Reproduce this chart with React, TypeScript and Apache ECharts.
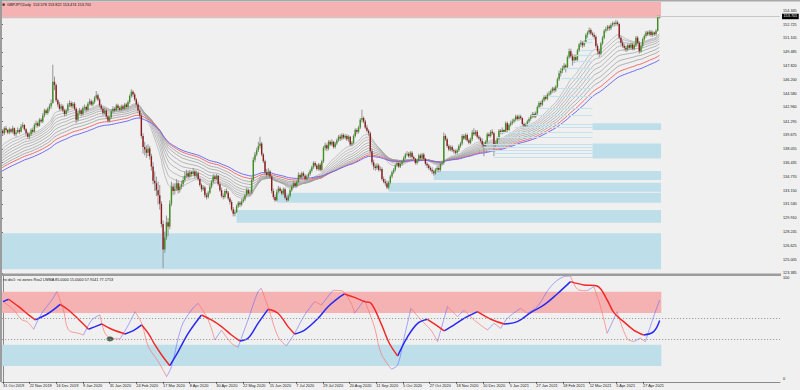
import React, { useEffect, useRef } from "react";
import * as echarts from "echarts";

const FONT = "'Liberation Sans', Arial, sans-serif";

const titleText = "GBPJPY,Daily  153.578 153.822 153.474 153.701";
const indicatorText = "rsi div1: rsi zones Rsx2 LWMA 85.0000 15.0000 57.9141 77.1753";

const dateBars = [0, 16, 32, 48, 64, 80, 96, 112, 128, 144, 160, 176, 192, 208, 224, 240, 256, 272, 288, 304, 320, 336, 352, 368, 384];
const dateLabels = ["31 Oct 2019", "22 Nov 2019", "16 Dec 2019", "9 Jan 2020", "31 Jan 2020", "24 Feb 2020", "17 Mar 2020", "8 Apr 2020", "30 Apr 2020", "22 May 2020", "15 Jun 2020", "7 Jul 2020", "29 Jul 2020", "20 Aug 2020", "11 Sep 2020", "5 Oct 2020", "27 Oct 2020", "18 Nov 2020", "10 Dec 2020", "5 Jan 2021", "27 Jan 2021", "18 Feb 2021", "12 Mar 2021", "5 Apr 2021", "27 Apr 2021"];

const priceTicks = [154.345, 152.725, 151.105, 149.485, 147.82, 146.2, 144.58, 142.96, 141.295, 139.675, 138.055, 136.435, 134.77, 133.15, 131.53, 129.91, 128.245, 126.625, 125.005, 123.385];
const lastPrice = 153.701;

const firstOpen = 140.0;
const closes = [
  140.2, 139.9, 140.5, 140.3, 140.0, 140.4, 140.1, 140.5, 139.8, 140.0, 140.3, 140.1, 140.7, 140.9, 140.4, 139.9,
  139.5, 139.8, 140.3, 140.1, 140.9, 141.1, 140.8, 141.5, 141.3, 142.0, 142.6, 142.3, 142.8, 143.1, 143.5, 146.0,
  145.6, 143.8, 143.3, 142.8, 143.1, 142.6, 142.2, 142.6, 143.3, 143.5, 143.1, 143.4, 142.8, 141.5, 142.3, 142.6,
  142.2, 142.9, 143.0, 142.7, 143.4, 143.7, 143.3, 143.6, 144.1, 144.4, 143.9, 143.2, 142.8, 142.3, 142.6, 141.9,
  141.4, 141.8, 142.5, 142.8, 142.6, 143.2, 142.9, 142.7, 143.1, 142.8, 143.3, 143.0, 143.6, 144.3, 144.8, 144.5,
  143.9, 143.3, 142.6, 142.0, 139.6, 138.3, 138.0, 137.6, 138.1, 137.2, 136.0, 134.3, 134.0, 133.2, 132.6, 131.6,
  129.2, 126.2, 127.6, 129.4, 128.9, 131.6, 133.6, 133.1, 133.4, 134.0, 133.2, 133.6, 133.9, 134.4, 134.9, 135.2,
  134.8, 135.3, 135.1, 135.4, 134.9, 135.2, 134.5, 133.8, 133.3, 133.5, 132.6, 132.4, 132.9, 133.6, 134.2, 134.8,
  134.5, 134.9, 133.9, 133.2, 132.5, 132.4, 133.1, 132.9, 132.2, 131.8, 130.9, 130.4, 130.6, 131.3, 131.7, 131.5,
  131.9, 132.1, 132.6, 133.2, 132.8, 132.9, 134.4, 136.8, 137.4, 137.9, 138.4, 138.7, 137.4, 136.6, 135.3, 135.0,
  135.4, 134.8, 133.1, 132.4, 132.0, 133.0, 133.4, 133.1, 132.8, 133.3, 132.3, 132.0, 132.5, 133.2, 133.6, 134.0,
  133.7, 134.2, 135.0, 134.7, 135.2, 134.9, 134.5, 134.8, 135.1, 135.5, 135.9, 136.4, 136.1, 135.7, 136.2, 135.6,
  136.6, 138.2, 138.5, 138.1, 138.9, 138.6, 138.9, 138.3, 138.7, 139.1, 139.5, 139.3, 139.7, 139.4, 139.6, 139.2,
  139.5, 138.6, 138.8, 139.6, 140.3, 140.1, 140.6, 141.5, 141.7, 141.3, 140.6, 140.2, 139.9, 137.8, 136.5, 136.0,
  135.8, 136.1, 135.6, 135.7, 134.5, 134.2, 134.0, 133.5, 134.1, 134.8, 135.3, 135.6, 136.1, 136.4, 136.0, 136.3,
  136.6, 137.0, 137.4, 137.5, 137.2, 137.6, 137.1, 136.9, 136.4, 136.7, 137.3, 137.0, 137.4, 136.9, 136.3, 136.1,
  135.8, 135.6, 135.4, 135.2, 135.6, 135.8, 135.6, 136.3, 136.4, 139.6, 139.2, 138.4, 138.0, 138.3, 137.9, 137.8,
  137.6, 137.9, 138.4, 138.7, 139.6, 139.3, 139.7, 139.1, 138.8, 139.2, 140.0, 139.8, 140.1, 139.5, 139.3, 139.0,
  138.6, 138.4, 138.9, 139.8, 139.6, 140.1, 139.9, 138.6, 138.7, 139.3, 140.2, 140.0, 140.3, 140.1, 141.1, 140.3,
  140.9, 141.1, 141.3, 141.5, 141.9, 141.6, 141.9, 141.7, 141.0, 140.8, 140.9, 141.3, 141.6, 141.9, 142.2, 141.9,
  142.3, 143.0, 143.5, 143.3, 143.8, 144.2, 144.0, 144.5, 144.6, 144.9, 145.2, 145.0, 145.4, 146.3, 147.0, 147.3,
  147.6, 147.9, 147.7, 148.9, 149.6, 149.0, 148.5, 148.9, 148.6, 149.7, 150.4, 150.6, 150.3, 150.7, 151.5, 151.8,
  152.1, 151.7, 151.5, 151.3, 150.2, 149.6, 149.3, 150.5, 151.2, 152.0, 152.2, 152.5, 152.3, 152.7, 152.9, 152.8,
  153.0, 152.8, 151.2, 150.6, 150.2, 150.0, 149.8, 150.3, 150.0, 150.4, 149.9, 150.3, 151.2, 150.6, 149.6, 150.2,
  151.0, 151.4, 151.8, 151.6, 151.9, 151.5, 151.8, 151.6, 152.0, 153.578, 153.701,
];
const highs = [
  140.5, 140.4, 140.7, 140.8, 140.4, 140.6, 140.5, 140.8, 140.6, 140.3, 140.6, 140.5, 141.0, 141.2, 141.0, 140.5,
  140.1, 140.0, 140.5, 140.6, 141.1, 141.4, 141.3, 141.7, 141.7, 142.3, 142.8, 142.8, 143.0, 143.4, 143.9, 148.0,
  146.6, 145.8, 144.0, 143.6, 143.4, 143.3, 142.8, 142.8, 143.5, 143.8, 143.7, 143.6, 143.6, 143.0, 142.5, 142.9,
  142.8, 143.1, 143.3, 143.2, 143.6, 144.0, 143.9, 143.8, 144.3, 144.9, 144.6, 144.1, 143.4, 143.0, 142.9, 142.8,
  142.1, 142.0, 142.7, 143.1, 143.0, 143.4, 143.4, 143.1, 143.3, 143.3, 143.5, 143.5, 143.8, 144.5, 145.1, 145.0,
  144.7, 144.1, 143.6, 142.8, 142.3, 139.9, 138.9, 138.5, 138.6, 138.4, 137.5, 136.5, 135.4, 134.8, 134.2, 133.8,
  131.9, 129.6, 128.3, 130.2, 129.9, 132.0, 134.2, 134.0, 134.0, 134.5, 134.3, 134.0, 134.3, 134.8, 135.4, 135.6,
  135.5, 135.6, 135.5, 135.8, 135.6, 135.5, 135.4, 134.7, 134.0, 133.8, 133.7, 132.9, 133.1, 133.9, 134.4, 135.1,
  135.0, 135.1, 135.0, 134.1, 133.5, 132.8, 133.3, 133.4, 133.1, 132.4, 132.0, 131.2, 130.9, 131.5, 131.9, 131.9,
  132.2, 132.4, 132.8, 133.5, 133.4, 133.2, 134.7, 137.1, 137.7, 138.2, 138.9, 139.5, 138.9, 137.6, 136.8, 135.7,
  135.8, 135.6, 135.0, 133.4, 132.7, 133.3, 133.7, 133.6, 133.3, 133.5, 133.5, 132.6, 132.7, 133.4, 133.8, 134.3,
  134.2, 134.4, 135.3, 135.2, 135.4, 135.4, 135.1, 135.0, 135.3, 135.7, 136.1, 136.6, 136.6, 136.3, 136.4, 136.4,
  136.8, 138.4, 138.8, 138.7, 139.1, 139.1, 139.2, 139.0, 138.9, 139.3, 139.7, 139.8, 139.9, 139.9, 139.8, 139.8,
  139.7, 139.6, 139.0, 139.8, 140.5, 140.5, 140.8, 141.7, 142.7, 141.9, 141.5, 140.9, 140.4, 140.1, 138.1, 136.8,
  136.3, 136.4, 136.3, 136.0, 135.9, 134.8, 134.5, 134.3, 134.3, 135.0, 135.5, 135.8, 136.3, 136.6, 136.6, 136.5,
  136.8, 137.2, 137.6, 137.8, 137.7, 137.8, 137.8, 137.3, 137.0, 136.9, 137.5, 137.5, 137.6, 137.6, 137.0, 136.5,
  136.3, 136.0, 135.9, 135.6, 135.8, 136.1, 136.1, 136.5, 136.7, 140.0, 139.8, 139.4, 138.6, 138.5, 138.5, 138.1,
  138.0, 138.1, 138.6, 138.9, 139.8, 139.8, 139.9, 139.9, 139.3, 139.4, 140.3, 140.5, 140.3, 140.3, 139.7, 139.5,
  139.3, 138.9, 139.1, 140.0, 140.0, 140.3, 140.4, 140.1, 139.0, 139.5, 140.4, 140.4, 140.6, 140.4, 141.3, 141.3,
  141.1, 141.4, 141.6, 141.7, 142.1, 142.1, 142.1, 142.1, 141.8, 141.2, 141.1, 141.5, 141.8, 142.1, 142.4, 142.4,
  142.5, 143.2, 143.7, 143.7, 144.0, 144.4, 144.4, 144.7, 144.9, 145.1, 145.4, 145.4, 145.6, 146.5, 147.3, 147.6,
  147.9, 148.2, 148.1, 149.1, 149.9, 149.9, 149.3, 149.2, 149.2, 149.9, 150.6, 150.9, 150.8, 150.9, 151.7, 152.0,
  152.4, 152.3, 151.9, 151.8, 151.5, 150.5, 149.9, 150.7, 151.4, 152.2, 152.5, 152.7, 152.7, 152.9, 153.1, 153.1,
  153.3, 153.2, 152.9, 151.4, 150.9, 150.5, 150.2, 150.5, 150.5, 150.6, 150.6, 150.5, 151.4, 151.4, 150.8, 150.4,
  151.2, 151.6, 152.0, 152.0, 152.1, 152.1, 152.0, 151.9, 152.2, 153.8, 153.822,
];
const lows = [
  139.7, 139.6, 139.7, 140.0, 139.8, 139.8, 139.9, 139.9, 139.6, 139.5, 139.9, 139.8, 140.0, 140.5, 140.2, 139.6,
  139.3, 139.2, 139.6, 139.9, 140.0, 140.6, 140.6, 140.7, 141.1, 141.1, 141.8, 142.1, 142.1, 142.5, 142.8, 143.4,
  145.0, 143.6, 143.0, 142.6, 142.6, 142.4, 141.9, 142.0, 142.4, 143.0, 142.9, 142.9, 142.6, 141.1, 141.3, 142.1,
  141.9, 142.0, 142.6, 142.4, 142.6, 143.2, 143.1, 143.1, 143.4, 143.9, 143.7, 143.0, 142.6, 142.0, 142.1, 141.6,
  141.2, 141.2, 141.6, 142.3, 142.4, 142.5, 142.7, 142.5, 142.5, 142.6, 142.7, 142.8, 142.9, 143.4, 144.1, 144.2,
  143.7, 143.1, 142.3, 141.7, 139.3, 137.5, 137.3, 137.0, 137.2, 136.8, 135.5, 133.9, 133.1, 132.5, 131.5, 130.9,
  128.8, 124.0, 125.8, 127.3, 127.8, 128.6, 131.3, 132.6, 132.7, 133.1, 132.8, 132.9, 133.3, 133.6, 134.1, 134.6,
  134.5, 134.6, 134.8, 134.9, 134.6, 134.7, 134.3, 133.6, 133.0, 133.1, 132.3, 132.1, 132.2, 132.7, 133.4, 134.0,
  134.3, 134.4, 133.7, 133.0, 132.3, 132.1, 132.2, 132.7, 132.0, 131.5, 130.7, 130.1, 130.1, 130.5, 131.1, 131.2,
  131.3, 131.7, 131.9, 132.4, 132.6, 132.5, 132.7, 134.2, 136.5, 137.2, 137.7, 138.1, 137.2, 136.4, 135.1, 134.7,
  134.8, 134.6, 132.8, 132.1, 131.8, 131.9, 132.8, 132.9, 132.6, 132.6, 132.1, 131.8, 131.9, 132.3, 133.0, 133.4,
  133.5, 133.5, 134.0, 134.5, 134.5, 134.7, 134.3, 134.3, 134.6, 134.9, 135.3, 135.7, 135.9, 135.5, 135.5, 135.4,
  135.4, 136.4, 137.9, 137.8, 137.9, 138.4, 138.4, 138.1, 138.1, 138.5, 138.9, 139.0, 139.1, 139.2, 139.2, 139.0,
  138.9, 138.4, 138.4, 138.6, 139.4, 139.8, 139.9, 140.4, 141.2, 141.1, 140.4, 140.0, 139.6, 137.5, 136.2, 135.6,
  135.5, 135.6, 135.4, 135.4, 134.3, 134.0, 133.7, 133.3, 133.3, 133.9, 134.6, 135.1, 135.4, 135.9, 135.8, 135.8,
  136.1, 136.4, 136.8, 137.2, 137.0, 137.0, 136.9, 136.7, 136.2, 136.2, 136.5, 136.8, 136.8, 136.7, 136.1, 135.8,
  135.6, 135.4, 135.1, 134.9, 135.0, 135.4, 135.3, 135.4, 136.1, 136.2, 139.0, 138.2, 137.8, 137.8, 137.7, 137.5,
  137.4, 137.4, 137.7, 138.2, 138.5, 139.1, 139.1, 138.9, 138.6, 138.6, 139.0, 139.6, 139.6, 139.3, 139.1, 138.8,
  138.3, 137.2, 138.2, 138.7, 139.4, 139.4, 139.7, 137.2, 138.3, 138.5, 139.1, 139.8, 139.8, 139.9, 140.0, 140.0,
  140.2, 140.7, 140.9, 141.1, 141.3, 141.4, 141.4, 141.5, 140.8, 140.5, 140.6, 140.7, 141.1, 141.4, 141.7, 141.7,
  141.7, 142.1, 142.8, 143.0, 143.1, 143.6, 143.8, 143.8, 144.3, 144.4, 144.7, 144.7, 144.8, 145.2, 146.1, 146.6,
  147.0, 147.4, 147.1, 147.5, 148.7, 148.8, 147.9, 148.2, 148.3, 148.4, 149.5, 150.1, 150.0, 150.1, 150.5, 151.2,
  151.6, 151.5, 151.3, 151.0, 150.0, 149.2, 148.9, 149.1, 150.3, 151.0, 151.8, 152.0, 152.0, 152.1, 152.5, 152.5,
  152.6, 152.6, 151.0, 150.3, 150.0, 149.7, 149.5, 149.6, 149.8, 149.8, 149.7, 149.7, 150.1, 150.4, 149.3, 149.4,
  150.0, 150.8, 151.2, 151.4, 151.4, 151.3, 151.3, 151.4, 151.4, 151.9, 153.474,
];

// Moving average ribbon: EMA periods and their values at the first visible bar
const grayPeriods = [20, 25, 30, 36, 42, 49, 57, 65];
const graySeeds = [138.33, 137.94, 137.55, 137.23, 136.92, 136.6, 136.29, 136.01];
const redPeriod = 75;
const redSeed = 135.78;
const bluePeriod = 85;
const blueSeed = 135.38;

// Price zones (start bar, low, high); all end at zoneEndBar
const zoneEndBar = 395;
const supplyZoneStart = -0.6;
const supplyZoneLow = 153.48;
const supplyZoneHigh = 155.407;
const demandZoneStarts = [-0.6, 141, 165, 232, 259, 354, 354];
const demandZoneLows = [123.86, 129.35, 131.72, 133.0, 134.4, 136.93, 140.3];
const demandZoneHighs = [128.11, 130.86, 132.9, 134.08, 135.46, 138.71, 141.09];

const stripeEndBar = 354;
const stripeLevels = [151.0, 150.6, 149.74, 149.15, 148.36, 147.58, 146.4, 145.22, 144.23, 142.86, 142.07, 141.01, 140.6, 139.98, 139.5, 138.65, 138.3, 137.9, 137.5, 137.1];
const stripeStarts = [350, 348.5, 347, 344.5, 342.5, 337.5, 335.5, 332.5, 328.5, 321.5, 317.5, 314.5, 307.5, 298.5, 296.6, 289, 289, 291, 295, 295];

// Oscillator pane
const oscZoneLows = [65, 15];
const oscZoneHighs = [85, 35];
const oscLevels = [60, 40];
const slowBars = [0, 3.4, 9.4, 15.4, 19.4, 27.3, 34.3, 39.3, 45.3, 51.3, 55.3, 59.2, 65.2, 73.2, 78.2, 83.2, 87.2, 91.2, 95.2, 100.1, 105.1, 111.1, 119.1, 125.1, 131.1, 137.1, 142, 147, 153, 159, 165, 171, 175, 181, 189, 195, 200.9, 204.9, 210.9, 216.8, 220.8, 226.8, 231.8, 236.8, 242.8, 248.8, 254.7, 259.7, 264.7, 270.7, 276.7, 284.7, 292.7, 300.6, 308.6, 316.6, 324.6, 332.5, 340.5, 348.5, 356.5, 362.5, 366.5, 372.4, 378.4, 384.4, 390.4, 394];
const slowVals = [75.7, 77.9, 70.9, 63.1, 58.4, 64.7, 73.1, 67.8, 59, 49.6, 52.1, 54.6, 49.6, 45.2, 48.3, 53.7, 45.8, 34.8, 25.4, 15.3, 28.5, 45.8, 63.1, 58.4, 52.1, 44.2, 38.6, 41.1, 55.2, 68.4, 64.7, 52.1, 45.2, 48.9, 59.9, 70.9, 78.8, 82.9, 79.7, 75.7, 74.1, 55.2, 36.4, 24.4, 42.7, 55.2, 59, 53.7, 48, 53.7, 59.9, 66.2, 59, 54.6, 56.8, 65.3, 72.5, 82.9, 94.5, 91.4, 90.4, 77.2, 65.3, 56.8, 48.9, 44.2, 47.4, 57.9141];
const fastBars = [0, 6.4, 11.4, 14.4, 18.4, 23.3, 29.3, 32.3, 36.3, 39.3, 45.3, 48.3, 53.3, 58.2, 61.2, 65.2, 70.2, 75.2, 79.2, 83.2, 87.2, 93.2, 98.1, 101.1, 107.1, 113.1, 117.1, 123.1, 127.1, 131.1, 137.1, 141, 147, 153, 155, 159, 165, 170, 175, 181, 187, 191, 198, 202.9, 208.9, 210.9, 216.8, 222.8, 226.8, 233, 236.8, 240.8, 244.8, 250.8, 256.7, 260.7, 266.7, 272.7, 276.7, 282.7, 290.7, 294.6, 298.6, 302.6, 310.6, 314.6, 320.6, 328.6, 336.5, 340.5, 345.5, 350.5, 354.5, 358.5, 362.5, 368.5, 374.4, 378.4, 382.4, 385.4, 390.4, 394];
const fastVals = [76, 67.8, 58.4, 56.8, 49.6, 64.7, 77.2, 85.1, 67.8, 48.9, 45.8, 44.2, 58.4, 63.1, 45.8, 41.1, 40.5, 53.7, 66.2, 55.2, 33.2, 19.1, 4.9, 14.4, 52.1, 67.8, 74.1, 58.4, 39.5, 48.9, 36.4, 32.6, 58.4, 85.1, 88.2, 70.9, 42.7, 33.9, 45.8, 63.1, 75.7, 72.5, 86.3, 86, 74.1, 64.7, 77.2, 52.1, 27, 12, 16, 42.7, 69.4, 58.4, 48.9, 38, 71, 61.5, 67.8, 58.4, 48.9, 55.2, 50.5, 59.9, 69.4, 64.7, 71, 89.8, 99.2, 99.8, 86.6, 86, 89.8, 70.9, 45.8, 66.2, 41.1, 38, 41.1, 38, 61.5, 77.1753];
const divergenceBars = [64.2];
const divergenceVals = [40.5];

const BG = "#F0F0F0";
const PINK = "#F5B2B2";
const LIGHTBLUE = "#BEDFEA";
const UP = "#3F8F22";
const DOWN = "#8E1C1C";

function emaSeries(period: number, seed: number) {
  const a = 2 / (period + 1);
  const out: number[][] = [];
  let e = seed;
  for (let i = 0; i < closes.length; i++) {
    if (i > 0) e = e + a * (closes[i] - e);
    out.push([i, e]);
  }
  return out;
}

function slopeRuns(xs: number[], vs: number[]) {
  const up: any[] = [];
  const down: any[] = [];
  let i = 0;
  while (i < xs.length - 1) {
    const rising = vs[i + 1] >= vs[i];
    const run: any[] = [[xs[i], vs[i]]];
    let j = i;
    while (j < xs.length - 1 && (vs[j + 1] >= vs[j]) === rising) {
      run.push([xs[j + 1], vs[j + 1]]);
      j++;
    }
    const target = rising ? up : down;
    target.push(...run, [xs[j], "-"]);
    i = j;
  }
  return { up, down };
}

export default function App() {
  const ref = useRef<HTMLDivElement>(null);

  useEffect(() => {
    document.body.style.margin = "0";
    document.body.style.background = BG;
    if (!ref.current) return;
    const chart = echarts.init(ref.current, null, { renderer: "svg" });

    const candles = closes.map((c, i) => [i, i === 0 ? firstOpen : closes[i - 1], c, lows[i], highs[i]]);
    const slow = slopeRuns(slowBars, slowVals);
    const fast = slopeRuns(fastBars, fastVals);

    const mainZones: any[] = [
      [
        { coord: [supplyZoneStart, supplyZoneLow], itemStyle: { color: PINK } },
        { coord: [zoneEndBar, supplyZoneHigh] },
      ],
      ...demandZoneStarts.map((s, k) => [
        { coord: [s, demandZoneLows[k]], itemStyle: { color: LIGHTBLUE } },
        { coord: [zoneEndBar, demandZoneHighs[k]] },
      ]),
    ];
    const stripes = stripeLevels.map((lv, k) => [
      { coord: [stripeStarts[k], lv] },
      { coord: [stripeEndBar, lv] },
    ]);

    const grayColors = ["#B4B4B4", "#B0B0B0", "#ACACAC", "#A8A8A8", "#A5A5A5", "#A2A2A2", "#9F9F9F", "#9C9C9C"];

    const series: any[] = [
      {
        type: "line",
        xAxisIndex: 0,
        yAxisIndex: 0,
        data: [[0, 140]],
        symbol: "none",
        lineStyle: { opacity: 0 },
        silent: true,
        z: 1,
        markArea: { silent: true, data: mainZones, itemStyle: { opacity: 1 } },
        markLine: {
          silent: true,
          symbol: "none",
          data: stripes,
          lineStyle: { color: "#C3E2EC", width: 1.2, type: "solid" },
          label: { show: false },
        },
      },
      {
        type: "line",
        xAxisIndex: 0,
        yAxisIndex: 0,
        data: [[0, lastPrice]],
        symbol: "none",
        lineStyle: { opacity: 0 },
        silent: true,
        z: 1,
        markLine: {
          silent: true,
          symbol: "none",
          data: [{ yAxis: lastPrice }],
          lineStyle: { color: "#C8C8C8", width: 1, type: "solid" },
          label: {
            show: true,
            position: "end",
            formatter: lastPrice.toFixed(3),
            color: "#FFFFFF",
            backgroundColor: "#000000",
            fontSize: 3.8,
            fontFamily: FONT,
            padding: [1, 1.5, 0.5, 1.5],
            distance: 2,
          },
        },
      },
      ...grayPeriods.map((p, k) => ({
        type: "line",
        xAxisIndex: 0,
        yAxisIndex: 0,
        data: emaSeries(p, graySeeds[k]),
        showSymbol: false,
        symbol: "none",
        silent: true,
        lineStyle: { color: grayColors[k], width: 0.8 },
        z: 2,
      })),
      {
        type: "line",
        xAxisIndex: 0,
        yAxisIndex: 0,
        data: emaSeries(redPeriod, redSeed),
        symbol: "none",
        silent: true,
        lineStyle: { color: "#F26A6A", width: 1 },
        z: 2,
      },
      {
        type: "line",
        xAxisIndex: 0,
        yAxisIndex: 0,
        data: emaSeries(bluePeriod, blueSeed),
        symbol: "none",
        silent: true,
        lineStyle: { color: "#6A6AF2", width: 1 },
        z: 2,
      },
      {
        type: "custom",
        xAxisIndex: 0,
        yAxisIndex: 0,
        data: candles,
        encode: { x: 0, y: [1, 2, 3, 4] },
        clip: true,
        silent: true,
        z: 3,
        renderItem: (params: any, api: any) => {
          const i = api.value(0);
          const o = api.value(1);
          const c = api.value(2);
          const l = api.value(3);
          const h = api.value(4);
          const pO = api.coord([i, o]);
          const pC = api.coord([i, c]);
          const pL = api.coord([i, l]);
          const pH = api.coord([i, h]);
          const x = pO[0];
          const top = Math.min(pO[1], pC[1]);
          const hgt = Math.max(Math.abs(pO[1] - pC[1]), 0.8);
          return {
            type: "group",
            children: [
              { type: "line", shape: { x1: x, y1: pH[1], x2: x, y2: pL[1] }, style: { stroke: "#8A8A8A", lineWidth: 0.9 } },
              { type: "rect", shape: { x: x - 0.7, y: top, width: 1.4, height: hgt }, style: { fill: c >= o ? UP : DOWN } },
            ],
          };
        },
      },
      // oscillator pane
      {
        type: "line",
        xAxisIndex: 1,
        yAxisIndex: 1,
        data: [[0, 50]],
        symbol: "none",
        lineStyle: { opacity: 0 },
        silent: true,
        z: 1,
        markArea: {
          silent: true,
          data: [
            [{ coord: [-0.6, oscZoneLows[0]], itemStyle: { color: PINK } }, { coord: [zoneEndBar, oscZoneHighs[0]] }],
            [{ coord: [-0.6, oscZoneLows[1]], itemStyle: { color: LIGHTBLUE } }, { coord: [zoneEndBar, oscZoneHighs[1]] }],
          ],
        },
        markLine: {
          silent: true,
          symbol: "none",
          data: oscLevels.map((v) => ({ yAxis: v })),
          lineStyle: { color: "#8C8C8C", width: 0.8, type: [1.2, 1.8] },
          label: { show: false },
        },
      },
      {
        type: "line",
        xAxisIndex: 1,
        yAxisIndex: 1,
        data: fast.up,
        symbol: "none",
        smooth: 0.35,
        silent: true,
        lineStyle: { color: "rgba(95,95,255,0.6)", width: 0.9 },
        z: 2,
      },
      {
        type: "line",
        xAxisIndex: 1,
        yAxisIndex: 1,
        data: fast.down,
        symbol: "none",
        smooth: 0.35,
        silent: true,
        lineStyle: { color: "rgba(255,105,105,0.7)", width: 0.9 },
        z: 2,
      },
      {
        type: "line",
        xAxisIndex: 1,
        yAxisIndex: 1,
        data: slow.up,
        symbol: "none",
        smooth: 0.35,
        silent: true,
        lineStyle: { color: "#2828F5", width: 1.5 },
        z: 3,
      },
      {
        type: "line",
        xAxisIndex: 1,
        yAxisIndex: 1,
        data: slow.down,
        symbol: "none",
        smooth: 0.35,
        silent: true,
        lineStyle: { color: "#F52828", width: 1.5 },
        z: 3,
      },
      {
        type: "scatter",
        xAxisIndex: 1,
        yAxisIndex: 1,
        data: divergenceBars.map((b, k) => [b, divergenceVals[k]]),
        symbol: "circle",
        symbolSize: [7, 5],
        itemStyle: { color: "#2C4636" },
        silent: true,
        z: 4,
      },
    ];

    const axisLineStyle = { color: "#8A8A8A", width: 1 };

    chart.setOption({
      animation: false,
      backgroundColor: BG,
      grid: [
        { left: 0, right: 20, top: 2, height: 271.5 },
        { left: 0, right: 20, top: 275.8, height: 106.1 },
      ],
      xAxis: [
        { type: "value", gridIndex: 0, min: -0.6, max: 466.2, show: false },
        {
          type: "value",
          gridIndex: 1,
          min: -0.6,
          max: 466.2,
          axisLine: { show: true, lineStyle: axisLineStyle },
          axisTick: { show: true, customValues: dateBars, length: 2, lineStyle: { color: "#444", width: 0.8 } },
          axisLabel: {
            customValues: dateBars,
            formatter: (v: number) => {
              const k = dateBars.indexOf(Math.round(v));
              return k >= 0 ? dateLabels[k] : "";
            },
            fontSize: 3.9,
            fontFamily: FONT,
            color: "#222",
            align: "left",
            margin: 2,
          },
          splitLine: { show: false },
        },
      ],
      yAxis: [
        {
          type: "value",
          gridIndex: 0,
          position: "right",
          min: 123.36,
          max: 155.407,
          axisLine: { show: true, lineStyle: axisLineStyle },
          axisTick: { show: true, customValues: priceTicks, length: 2, lineStyle: { color: "#444", width: 0.8 } },
          axisLabel: {
            customValues: priceTicks,
            formatter: (v: number) => v.toFixed(3),
            fontSize: 3.8,
            fontFamily: FONT,
            color: "#222",
            margin: 3,
          },
          splitLine: { show: false },
        },
        {
          type: "value",
          gridIndex: 1,
          position: "right",
          min: 0,
          max: 100,
          axisLine: { show: true, lineStyle: axisLineStyle },
          axisTick: { show: false },
          axisLabel: {
            customValues: [2.5, 97.5],
            formatter: (v: number) => (v > 50 ? "100" : "0"),
            fontSize: 3.8,
            fontFamily: FONT,
            color: "#222",
            margin: 3,
          },
          splitLine: { show: false },
        },
      ],
      graphic: [
        { type: "rect", z: 100, shape: { x: 0, y: 0, width: 800, height: 1.5 }, style: { fill: "#A8A8A8" } },
        { type: "rect", z: 100, shape: { x: 0, y: 0, width: 2, height: 382 }, style: { fill: "#9C9C9C" } },
        { type: "rect", z: 100, shape: { x: 0, y: 273.5, width: 781, height: 2.4 }, style: { fill: "#9C9C9C" } },
        { type: "rect", z: 100, shape: { x: 2.5, y: 3.6, width: 2.2, height: 2.2 }, style: { fill: "#333" } },
        {
          type: "text",
          z: 100,
          x: 7,
          y: 3,
          style: { text: titleText, fontSize: 3.8, fontFamily: FONT, fill: "#111" },
        },
        {
          type: "text",
          z: 100,
          x: 3,
          y: 277.5,
          style: { text: indicatorText, fontSize: 3.8, fontFamily: FONT, fill: "#111" },
        },
      ],
      series,
    });

    return () => chart.dispose();
  }, []);

  return <div ref={ref} style={{ width: 800, height: 390, position: "fixed", left: 0, top: 0 }} />;
}
